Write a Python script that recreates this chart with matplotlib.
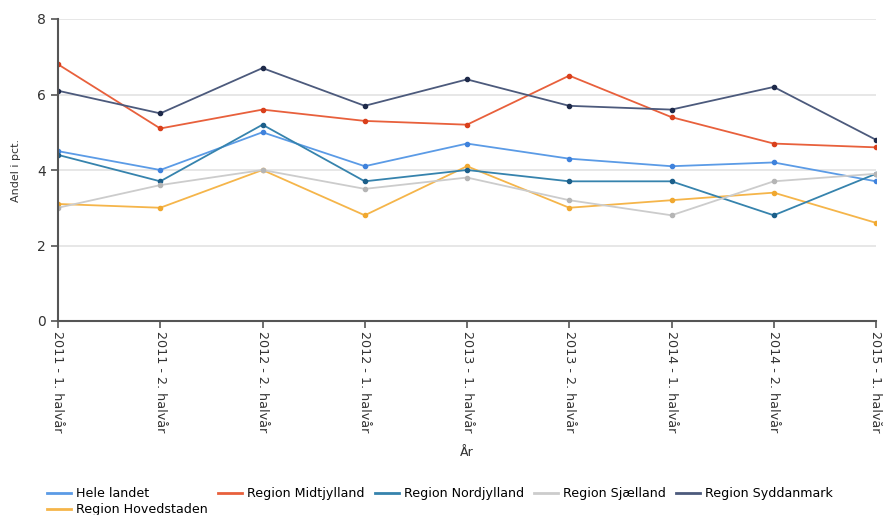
import numpy as np
import matplotlib
matplotlib.use('Agg')
from matplotlib import pyplot as plt

plt.rcParams['font.family'] = ['DejaVu Sans']

# kategorier (x-akse)
perioder = ['2011 - 1. halvår', '2011 - 2. halvår', '2012 - 2. halvår', '2012 - 1. halvår',
            '2013 - 1. halvår', '2013 - 2. halvår', '2014 - 1. halvår', '2014 - 2. halvår',
            '2015 - 1. halvår']

hele_landet = [4.5, 4.0, 5.0, 4.1, 4.7, 4.3, 4.1, 4.2, 3.7]
midtjylland = [6.8, 5.1, 5.6, 5.3, 5.2, 6.5, 5.4, 4.7, 4.6]
nordjylland = [4.4, 3.7, 5.2, 3.7, 4.0, 3.7, 3.7, 2.8, 3.9]
sjaelland = [3.0, 3.6, 4.0, 3.5, 3.8, 3.2, 2.8, 3.7, 3.9]
syddanmark = [6.1, 5.5, 6.7, 5.7, 6.4, 5.7, 5.6, 6.2, 4.8]
hovedstaden = [3.1, 3.0, 4.0, 2.8, 4.1, 3.0, 3.2, 3.4, 2.6]

# navn, data, linjefarve, markørfarve  (rækkefølge valgt så legenden ligner originalen)
serier = [
    ('Hele landet', hele_landet, '#5b9be6', '#3f82dc'),
    ('Region Hovedstaden', hovedstaden, '#f5b54a', '#f0a830'),
    ('Region Midtjylland', midtjylland, '#e8603c', '#d9401c'),
    ('Region Nordjylland', nordjylland, '#3683ad', '#1c5f8a'),
    ('Region Sjælland', sjaelland, '#cccccc', '#b5b5b5'),
    ('Region Syddanmark', syddanmark, '#4c5a7c', '#1e2a4a'),
]

fig = plt.figure(figsize=(8.83, 5.15), dpi=100)
ax = fig.add_axes([58/883, 1 - 321/515, (876-58)/883, (321-19)/515])

x = np.arange(len(perioder))
for navn, y, lc, mc in serier:
    ax.plot(x, y, color=lc, lw=1.3, marker='o', ms=3, mfc=mc, mec=mc, label=navn)

ax.set_xlim(0, len(perioder) - 1)
ax.set_ylim(0, 8)
ax.set_yticks([0, 2, 4, 6, 8])
ax.yaxis.grid(True, color='#e3e3e3', lw=1.2)
ax.set_axisbelow(True)

for s in ['top', 'right']:
    ax.spines[s].set_visible(False)
for s in ['left', 'bottom']:
    ax.spines[s].set_color('#555555')
    ax.spines[s].set_linewidth(1.5)

ax.set_xticks(x)
ax.set_xticklabels(perioder, rotation=270, fontsize=9.2, color='#333333')
ax.tick_params(axis='x', length=5, color='#555555', width=1.2, pad=2)
ax.tick_params(axis='y', length=5, color='#555555', width=1.2, labelsize=10, labelcolor='#333333')

ax.set_ylabel('Andel i pct.', fontsize=8, color='#333333', labelpad=12)
fig.text(467/883, 1 - 452/515, 'År', ha='center', va='center', fontsize=9, color='#333333')

fig.legend(loc='upper left', bbox_to_anchor=(47/883, 1 - 487/515), ncol=5, frameon=False,
           fontsize=9.1, handlelength=1.9, handletextpad=0.4, columnspacing=0.8,
           labelspacing=0.25, borderaxespad=0, borderpad=0)
for h in fig.legends[0].legend_handles:
    h.set_marker('')
    h.set_linewidth(2)

fig.savefig('out.png', dpi=100)
